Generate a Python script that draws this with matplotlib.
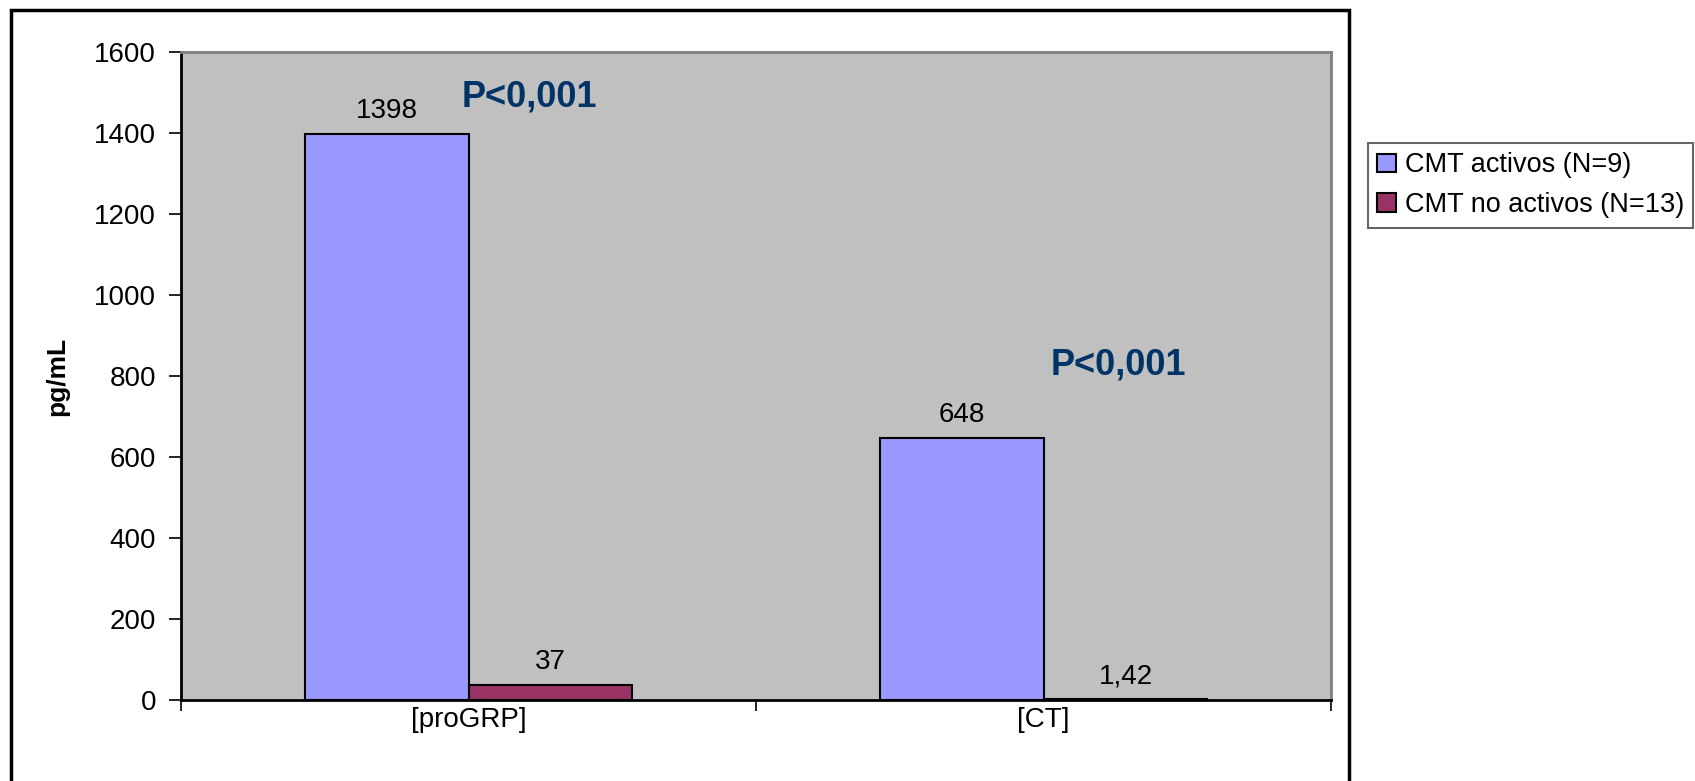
# Gráfico de barras proGRP / CT
import numpy as np
import matplotlib.pyplot as plt
from matplotlib.patches import Rectangle

plt.rcParams['font.family'] = ['Liberation Sans', 'DejaVu Sans']

# datos
categorias = ['[proGRP]', '[CT]']
activos = [1398, 648]
no_activos = [37, 1.42]
etiquetas_activos = ['1398', '648']
etiquetas_no_activos = ['37', '1,42']
series = ['CMT activos (N=9)', 'CMT no activos (N=13)']
p_textos = ['P<0,001', 'P<0,001']
p_x = [0.488, 1.512]
p_y = [1490, 827]
yticks = [0, 200, 400, 600, 800, 1000, 1200, 1400, 1600]

fig = plt.figure(figsize=(16.95, 7.81), dpi=100)
ax = fig.add_axes([0.1068, 0.1037, 0.6785, 0.8297])
ax.set_facecolor('#C0C0C0')

x = np.arange(len(categorias)) + 0.5
w = 0.285
b1 = ax.bar(x - w / 2, activos, w, color='#9999FF', edgecolor='black', linewidth=1.5, label=series[0])
b2 = ax.bar(x + w / 2, no_activos, w, color='#993366', edgecolor='black', linewidth=1.5, label=series[1])

for rects, labs in [(b1, etiquetas_activos), (b2, etiquetas_no_activos)]:
    for r, t in zip(rects, labs):
        ax.annotate(t, (r.get_x() + r.get_width() / 2, r.get_height()),
                    xytext=(0, 7), textcoords='offset points',
                    ha='center', va='bottom', fontsize=20)

# textos de significación
for xp, t, yy in zip(p_x, p_textos, p_y):
    ax.text(xp, yy, t, ha='left', va='center', fontsize=26,
            fontweight='bold', color='#003366')

ax.set_xlim(0, 2)
ax.set_ylim(0, 1600)
ax.set_yticks(yticks)
ax.tick_params(axis='y', labelsize=20, length=9, width=1.2, direction='out', pad=9)
ax.set_xticks([0, 1, 2])
ax.set_xticklabels([])
ax.set_xticks(x, minor=True)
ax.set_xticklabels(categorias, minor=True)
ax.tick_params(axis='x', which='major', length=8, width=1.2, direction='out')
ax.tick_params(axis='x', which='minor', length=0, labelsize=20, pad=5)

ax.set_ylabel('pg/mL', fontsize=19, fontweight='bold', labelpad=18)

for s in ['left', 'bottom']:
    ax.spines[s].set_color('black')
    ax.spines[s].set_linewidth(2)
for s in ['top', 'right']:
    ax.spines[s].set_color('#808080')
    ax.spines[s].set_linewidth(2)

# marco exterior del gráfico
fig.patches.append(Rectangle((11 / 1695, -0.05), (1349 - 11) / 1695, 1 - 10 / 781 + 0.05,
                             transform=fig.transFigure, fill=False,
                             edgecolor='black', linewidth=2.5))

leg = fig.legend(loc='upper left', bbox_to_anchor=(1368 / 1695, 1 - 143 / 781),
                 fontsize=19.5, frameon=True, fancybox=False, edgecolor='#404040',
                 handlelength=0.7, handleheight=0.7, handletextpad=0.3,
                 borderpad=0.35, labelspacing=0.5, borderaxespad=0)
leg.get_frame().set_linewidth(1.5)

fig.savefig('out.png', dpi=100)
